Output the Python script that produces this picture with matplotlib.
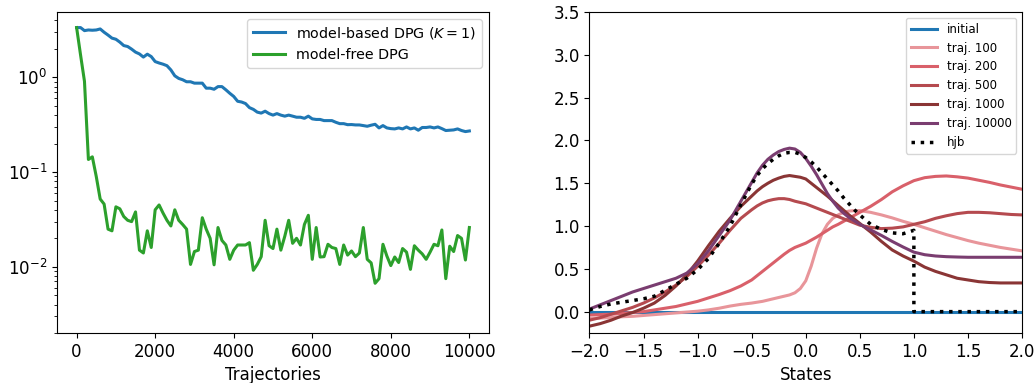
import numpy as np
import matplotlib
matplotlib.use("Agg")
import matplotlib.pyplot as plt

# left panel: error vs number of trajectories (log scale)
trajectories = np.arange(0, 10001, 100)

model_based = [
    3.36, 3.36, 3.12, 3.17, 3.15, 3.17, 3.25, 3.0, 2.8, 2.6,
    2.53, 2.36, 2.17, 2.12, 1.99, 1.85, 1.77, 1.64, 1.76, 1.66,
    1.47, 1.42, 1.38, 1.33, 1.2, 1.04, 0.976, 0.945, 0.9, 0.9,
    0.87, 0.87, 0.87, 0.77, 0.77, 0.75, 0.8, 0.8, 0.74, 0.68,
    0.63, 0.56, 0.55, 0.53, 0.48, 0.46, 0.43, 0.42, 0.44, 0.415,
    0.40, 0.415, 0.40, 0.39, 0.40, 0.39, 0.38, 0.38, 0.37, 0.39,
    0.365, 0.36, 0.36, 0.35, 0.35, 0.35, 0.336, 0.325, 0.325, 0.317,
    0.318, 0.315, 0.315, 0.31, 0.305, 0.313, 0.32, 0.293, 0.31, 0.293,
    0.288, 0.286, 0.293, 0.286, 0.30, 0.286, 0.293, 0.277, 0.296, 0.296,
    0.30, 0.293, 0.30, 0.288, 0.275, 0.277, 0.279, 0.286, 0.275, 0.268,
    0.272,
]

model_free = [
    3.36, 1.73, 0.91, 0.136, 0.145, 0.09, 0.052, 0.046, 0.025, 0.024,
    0.043, 0.041, 0.034, 0.031, 0.030, 0.038, 0.015, 0.014, 0.024, 0.016,
    0.040, 0.045, 0.037, 0.031, 0.027, 0.040, 0.031, 0.028, 0.025, 0.0106,
    0.0145, 0.015, 0.033, 0.025, 0.020, 0.0105, 0.026, 0.019, 0.017, 0.012,
    0.015, 0.017, 0.017, 0.017, 0.018, 0.0092, 0.0106, 0.0128, 0.031, 0.0167,
    0.0156, 0.025, 0.015, 0.021, 0.031, 0.0177, 0.020, 0.017, 0.028, 0.035,
    0.012, 0.026, 0.0127, 0.0128, 0.0173, 0.016, 0.0156, 0.0106, 0.017, 0.0133,
    0.0147, 0.0128, 0.014, 0.026, 0.012, 0.011, 0.0067, 0.0075, 0.0173, 0.013,
    0.0103, 0.0127, 0.0111, 0.0156, 0.0143, 0.0094, 0.0167, 0.015, 0.0137, 0.012,
    0.0143, 0.0173, 0.0167, 0.0245, 0.0075, 0.0165, 0.0145, 0.0214, 0.020, 0.0118,
    0.026,
]

# right panel: learned control over the state space
# (finer sampling around the peaks)
states = [
    -2.0, -1.9, -1.8, -1.7, -1.6, -1.5, -1.4, -1.3, -1.2, -1.1,
    -1.0, -0.9, -0.8, -0.7, -0.6, -0.5,
    -0.45, -0.4, -0.35, -0.3, -0.25, -0.2, -0.15, -0.1, -0.05, 0.0,
    0.05, 0.1, 0.15, 0.2, 0.25, 0.3, 0.35, 0.4, 0.45,
    0.5, 0.6, 0.7, 0.8, 0.9, 1.0, 1.1, 1.2, 1.3, 1.4,
    1.5, 1.6, 1.7, 1.8, 1.9, 2.0,
]

initial = [0.0] * len(states)

traj_100 = [
    -0.08, -0.075, -0.07, -0.06, -0.055, -0.045, -0.035, -0.025, -0.015, -0.005,
    0.005, 0.02, 0.04, 0.065, 0.085, 0.10,
    0.11, 0.12, 0.135, 0.15, 0.165, 0.18, 0.195, 0.22, 0.27, 0.36,
    0.53, 0.74, 0.91, 1.02, 1.09, 1.13, 1.16, 1.175, 1.18,
    1.18, 1.16, 1.13, 1.095, 1.055, 1.02, 0.98, 0.94, 0.90, 0.865,
    0.83, 0.80, 0.775, 0.75, 0.73, 0.71,
]
traj_200 = [
    -0.04, -0.035, -0.03, -0.02, -0.01, 0.0, 0.02, 0.04, 0.06, 0.09,
    0.12, 0.16, 0.20, 0.245, 0.30, 0.37,
    0.42, 0.47, 0.52, 0.57, 0.62, 0.67, 0.715, 0.75, 0.775, 0.80,
    0.835, 0.87, 0.91, 0.95, 0.99, 1.02, 1.055, 1.09, 1.125,
    1.16, 1.23, 1.31, 1.40, 1.47, 1.53, 1.565, 1.58, 1.585, 1.575,
    1.56, 1.535, 1.51, 1.48, 1.455, 1.43,
]
traj_500 = [
    -0.10, -0.07, -0.03, 0.01, 0.05, 0.10, 0.16, 0.23, 0.31, 0.41,
    0.53, 0.66, 0.80, 0.95, 1.09, 1.19,
    1.235, 1.27, 1.295, 1.31, 1.32, 1.32, 1.31, 1.29, 1.275, 1.26,
    1.235, 1.21, 1.185, 1.16, 1.135, 1.11, 1.085, 1.06, 1.035,
    1.01, 0.985, 0.97, 0.975, 0.99, 1.02, 1.05, 1.09, 1.12, 1.145,
    1.16, 1.16, 1.155, 1.145, 1.135, 1.13,
]
traj_1000 = [
    -0.17, -0.14, -0.10, -0.05, -0.01, 0.04, 0.10, 0.19, 0.30, 0.43,
    0.59, 0.77, 0.94, 1.09, 1.23, 1.35,
    1.41, 1.46, 1.50, 1.535, 1.56, 1.58, 1.59, 1.58, 1.57, 1.55,
    1.50, 1.45, 1.40, 1.35, 1.295, 1.24, 1.185, 1.13, 1.08,
    1.03, 0.93, 0.82, 0.72, 0.65, 0.59, 0.52, 0.47, 0.43, 0.39,
    0.37, 0.35, 0.34, 0.335, 0.335, 0.335,
]
traj_10000 = [
    0.03, 0.08, 0.13, 0.18, 0.23, 0.27, 0.31, 0.35, 0.39, 0.45,
    0.56, 0.71, 0.89, 1.07, 1.29, 1.51,
    1.62, 1.71, 1.78, 1.83, 1.87, 1.895, 1.91, 1.90, 1.86, 1.79,
    1.70, 1.60, 1.49, 1.38, 1.29, 1.21, 1.15, 1.10, 1.06,
    1.02, 0.955, 0.89, 0.82, 0.755, 0.695, 0.665, 0.65, 0.642, 0.638,
    0.635, 0.635, 0.635, 0.635, 0.635, 0.635,
]

# hjb reference solution, with the jump down to zero at state 1.0
hjb_x = states[:41] + [1.0, 2.0]
hjb_y = [
    0.02, 0.06, 0.09, 0.11, 0.13, 0.15, 0.18, 0.25, 0.32, 0.39,
    0.49, 0.62, 0.80, 1.00, 1.25, 1.49,
    1.59, 1.67, 1.73, 1.78, 1.82, 1.85, 1.86, 1.86, 1.84, 1.80,
    1.75, 1.69, 1.62, 1.55, 1.48, 1.41, 1.33, 1.26, 1.19,
    1.13, 1.02, 0.96, 0.92, 0.91, 0.95,
    0.0, 0.0,
]

traj_curves = [traj_100, traj_200, traj_500, traj_1000, traj_10000]
traj_labels = ["traj. 100", "traj. 200", "traj. 500", "traj. 1000", "traj. 10000"]
traj_colors = ["#e8959a", "#d9606a", "#b54a4f", "#8a3535", "#7a3d70"]

fig = plt.figure(figsize=(10.36, 3.83), dpi=100)
ax1 = fig.add_axes([0.055, 0.1305, 0.417, 0.838])
ax2 = fig.add_axes([0.569, 0.1305, 0.4175, 0.838])

ax1.plot(trajectories, model_based, color="#1f77b4", lw=2.2, label="model-based DPG ($K=1$)")
ax1.plot(trajectories, model_free, color="#2ca02c", lw=2.2, label="model-free DPG")
ax1.set_yscale("log")
ax1.set_ylim(2e-3, 4.9)
ax1.set_xlabel("Trajectories", fontsize=12)
ax1.tick_params(labelsize=12)
ax1.legend(loc="upper right", fontsize=10.3, handlelength=2.2)

ax2.plot(states, initial, color="#1f77b4", lw=2.2, label="initial")
for vals, lab, col in zip(traj_curves, traj_labels, traj_colors):
    ax2.plot(states, vals, color=col, lw=2.2, label=lab)
ax2.plot(hjb_x, hjb_y, color="black", lw=2.5, ls=":", label="hjb")
ax2.set_xlim(-2, 2)
ax2.set_ylim(-0.25, 3.5)
ax2.set_xlabel("States", fontsize=12)
ax2.tick_params(labelsize=12)
ax2.legend(loc="upper right", fontsize=8.5, handlelength=2.25)

fig.savefig("out.png", dpi=100)
